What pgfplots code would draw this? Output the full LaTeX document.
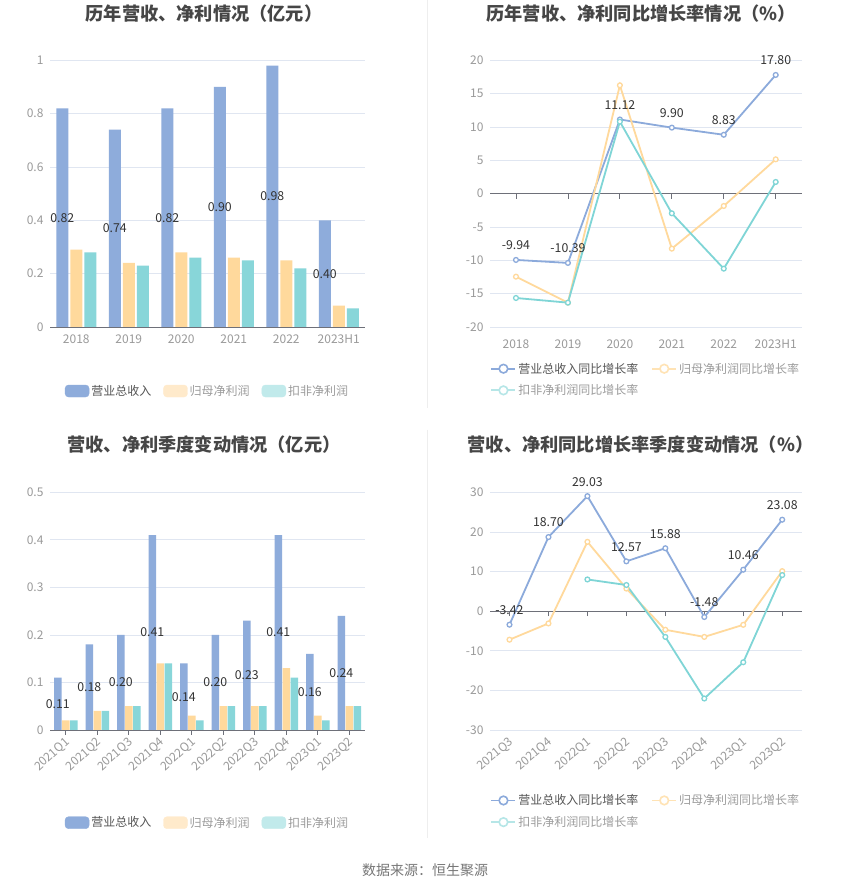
\documentclass[border=0pt]{standalone}
\usepackage{fontspec}
\setmainfont{Noto Sans CJK SC}
\usepackage{pgfplots}
\pgfplotsset{compat=1.18}
\definecolor{barblue}{HTML}{8EACDB}
\definecolor{barorange}{HTML}{FFD99C}
\definecolor{barcyan}{HTML}{88D6D9}
\definecolor{lineblue}{HTML}{8CAADB}
\definecolor{lineorange}{HTML}{FFD99C}
\definecolor{linecyan}{HTML}{7FD5D6}
\definecolor{legorange}{HTML}{FFEACB}
\definecolor{legcyan}{HTML}{C1EAEB}
\definecolor{legorangeL}{HTML}{FFE3B5}
\definecolor{legcyanL}{HTML}{B6E6E7}
\definecolor{gridc}{HTML}{E0E6F1}
\definecolor{axisc}{HTML}{6E7079}
\definecolor{tickc}{HTML}{9A9A9A}
\definecolor{labc}{HTML}{333333}
\definecolor{titc}{HTML}{464646}
\definecolor{leg1}{HTML}{555555}
\definecolor{leg2}{HTML}{9C9C9C}
\definecolor{sepc}{HTML}{EEEEEE}
\newcommand{\tkf}{\fontsize{12}{14}\selectfont}
\newcommand{\labf}{\fontsize{12.3}{14}\selectfont}
\newcommand{\titf}{\fontsize{18.2}{20}\selectfont\bfseries}
\pgfplotsset{
  base/.style={
    anchor=south west, scale only axis, clip=false,
    ymajorgrids, grid style={gridc, line width=0.8pt},
    axis y line*=left, y axis line style={draw=none},
    x axis line style={axisc, line width=0.8pt},
    ytick style={draw=none},
    tick label style={font=\tkf, text=tickc},
    yticklabel style={xshift=-3pt},
    /pgf/number format/assume math mode=true,
    legend style={draw=none, fill=none, inner sep=0pt, font=\fontsize{12}{14}\selectfont,
      /tikz/every even column/.append style={column sep=10pt}},
    legend cell align=left,
  },
  barlab/.style={draw=none, mark=none, forget plot, nodes near coords, point meta=explicit symbolic,
    nodes near coords style={font=\labf, text=labc, anchor=center, inner sep=0pt}},
  linelab/.style={draw=none, mark=none, forget plot, nodes near coords, point meta=explicit symbolic,
    nodes near coords style={font=\labf, text=labc, anchor=center, inner sep=0pt, yshift=14.5pt}},
  lser/.style={color=#1, line width=1.8pt, mark=*, mark size=2.4pt, mark options={fill=white, line width=1.3pt}},
}
\begin{document}
\begin{tikzpicture}[x=1pt,y=1pt]
\useasboundingbox (0,0) rectangle (850,891);
\fill[white] (0,0) rectangle (850,891);
\draw[sepc, line width=0.8pt] (427.5,891) -- (427.5,483);
\draw[sepc, line width=0.8pt] (427.5,461) -- (427.5,53);
\node[text=titc, font=\titf] at (204,877.5) {历年营收、净利情况（亿元）};
\node[text=titc, font=\titf] at (641,877.5) {历年营收、净利同比增长率情况（\%）};
\node[text=titc, font=\titf] at (204,446) {营收、净利季度变动情况（亿元）};
\node[text=titc, font=\titf] at (640.5,446) {营收、净利同比增长率季度变动情况（\%）};
\node[text=leg1!80, font=\fontsize{14}{16}\selectfont] at (425,20.3) {数据来源：恒生聚源};

% ---------- Chart 1 ----------
\begin{axis}[base, at={(50pt,564pt)}, width=315pt, height=266.7pt,
  xmin=-0.5, xmax=5.5, ymin=0, ymax=1,
  axis x line*=bottom, xtick style={draw=none},
  xtick={0,...,5}, xticklabels={2018,2019,2020,2021,2022,2023H1},
  xticklabel style={yshift=-4pt},
  ytick={0,0.2,0.4,0.6,0.8,1}, yticklabels={0,0.2,0.4,0.6,0.8,1},
  legend columns=3, legend style={at={(0.5,-0.24)}, anchor=center},
]
\addplot[ybar, bar width=12pt, bar shift=-14pt, fill=barblue, draw=none, forget plot]
  coordinates {(0,0.82) (1,0.74) (2,0.82) (3,0.90) (4,0.98) (5,0.40)};
\addplot[ybar, bar width=12pt, bar shift=0pt, fill=barorange, draw=none, forget plot]
  coordinates {(0,0.29) (1,0.24) (2,0.28) (3,0.26) (4,0.25) (5,0.08)};
\addplot[ybar, bar width=12pt, bar shift=14pt, fill=barcyan, draw=none, forget plot]
  coordinates {(0,0.28) (1,0.23) (2,0.26) (3,0.25) (4,0.22) (5,0.07)};
\addplot[barlab] coordinates {(-0.2667,0.41)[0.82] (0.7333,0.37)[0.74] (1.7333,0.41)[0.82] (2.7333,0.45)[0.90] (3.7333,0.49)[0.98] (4.7333,0.20)[0.40]};
\addlegendimage{legend image code/.code={\fill[barblue, rounded corners=3.5pt] (0pt,-6pt) rectangle (24pt,6pt);}}
\addlegendentry{\textcolor{leg1}{营业总收入}}
\addlegendimage{legend image code/.code={\fill[legorange, rounded corners=3.5pt] (0pt,-6pt) rectangle (24pt,6pt);}}
\addlegendentry{\textcolor{leg2}{归母净利润}}
\addlegendimage{legend image code/.code={\fill[legcyan, rounded corners=3.5pt] (0pt,-6pt) rectangle (24pt,6pt);}}
\addlegendentry{\textcolor{leg2}{扣非净利润}}
\end{axis}

% ---------- Chart 2 ----------
\begin{axis}[base, at={(490pt,564pt)}, width=311.7pt, height=266.7pt,
  xmin=-0.5, xmax=5.5, ymin=-20, ymax=20,
  axis x line*=middle, xtick align=outside, major tick length=5pt,
  xtick style={draw=axisc, line width=0.8pt},
  xtick={0,...,5}, xticklabels={2018,2019,2020,2021,2022,2023H1},
  xticklabel style={yshift=-137.5pt},
  ytick={-20,-15,...,20},
  legend columns=2, legend style={at={(0.5,-0.197)}, anchor=center, row sep=6pt,
    /tikz/every even column/.append style={column sep=11pt}},
]
\addplot[lser=lineblue, forget plot] coordinates {(0,-9.94) (1,-10.39) (2,11.12) (3,9.90) (4,8.83) (5,17.80)};
\addplot[lser=lineorange, forget plot] coordinates {(0,-12.45) (1,-16.35) (2,16.25) (3,-8.25) (4,-1.85) (5,5.15)};
\addplot[lser=linecyan, forget plot] coordinates {(0,-15.65) (1,-16.35) (2,10.8) (3,-2.95) (4,-11.25) (5,1.75)};
\addplot[linelab] coordinates {(0,-9.94)[-9.94] (1,-10.39)[-10.39] (2,11.12)[11.12] (3,9.90)[9.90] (4,8.83)[8.83] (5,17.80)[17.80]};
\addlegendimage{legend image code/.code={\draw[lineblue, line width=1.8pt] (0pt,0pt) -- (24pt,0pt); \draw[lineblue, line width=1.6pt, fill=white] (12pt,0pt) circle (4.3pt);}}
\addlegendentry{\textcolor{leg1}{营业总收入同比增长率}}
\addlegendimage{legend image code/.code={\draw[legorangeL, line width=1.8pt] (0pt,0pt) -- (24pt,0pt); \draw[legorangeL, line width=1.6pt, fill=white] (12pt,0pt) circle (4.3pt);}}
\addlegendentry{\textcolor{leg2}{归母净利润同比增长率}}
\addlegendimage{legend image code/.code={\draw[legcyanL, line width=1.8pt] (0pt,0pt) -- (24pt,0pt); \draw[legcyanL, line width=1.6pt, fill=white] (12pt,0pt) circle (4.3pt);}}
\addlegendentry{\textcolor{leg2}{扣非净利润同比增长率}}
\end{axis}

% ---------- Chart 3 ----------
\begin{axis}[base, at={(50pt,161pt)}, width=315pt, height=237.7pt,
  xmin=-0.5, xmax=9.5, ymin=0, ymax=0.5,
  axis x line*=bottom, xtick align=outside, major tick length=5pt,
  xtick style={draw=axisc, line width=0.8pt},
  xtick={0,...,9}, xticklabels={2021Q1,2021Q2,2021Q3,2021Q4,2022Q1,2022Q2,2022Q3,2022Q4,2023Q1,2023Q2},
  xticklabel style={anchor=east, xshift=5pt, yshift=-3.3pt, rotate=42},
  ytick={0,0.1,0.2,0.3,0.4,0.5}, yticklabels={0,0.1,0.2,0.3,0.4,0.5},
  legend columns=3, legend style={at={(0.5,-0.39)}, anchor=center},
]
\addplot[ybar, bar width=7.5pt, bar shift=-8pt, fill=barblue, draw=none, forget plot]
  coordinates {(0,0.11) (1,0.18) (2,0.20) (3,0.41) (4,0.14) (5,0.20) (6,0.23) (7,0.41) (8,0.16) (9,0.24)};
\addplot[ybar, bar width=7.5pt, bar shift=0pt, fill=barorange, draw=none, forget plot]
  coordinates {(0,0.02) (1,0.04) (2,0.05) (3,0.14) (4,0.03) (5,0.05) (6,0.05) (7,0.13) (8,0.03) (9,0.05)};
\addplot[ybar, bar width=7.5pt, bar shift=8pt, fill=barcyan, draw=none, forget plot]
  coordinates {(0,0.02) (1,0.04) (2,0.05) (3,0.14) (4,0.02) (5,0.05) (6,0.05) (7,0.11) (8,0.02) (9,0.05)};
\addplot[barlab] coordinates {(-0.254,0.055)[0.11] (0.746,0.09)[0.18] (1.746,0.10)[0.20] (2.746,0.205)[0.41] (3.746,0.07)[0.14] (4.746,0.10)[0.20] (5.746,0.115)[0.23] (6.746,0.205)[0.41] (7.746,0.08)[0.16] (8.746,0.12)[0.24]};
\addlegendimage{legend image code/.code={\fill[barblue, rounded corners=3.5pt] (0pt,-6pt) rectangle (24pt,6pt);}}
\addlegendentry{\textcolor{leg1}{营业总收入}}
\addlegendimage{legend image code/.code={\fill[legorange, rounded corners=3.5pt] (0pt,-6pt) rectangle (24pt,6pt);}}
\addlegendentry{\textcolor{leg2}{归母净利润}}
\addlegendimage{legend image code/.code={\fill[legcyan, rounded corners=3.5pt] (0pt,-6pt) rectangle (24pt,6pt);}}
\addlegendentry{\textcolor{leg2}{扣非净利润}}
\end{axis}

% ---------- Chart 4 ----------
\begin{axis}[base, at={(490pt,161pt)}, width=311.7pt, height=237.7pt,
  xmin=-0.5, xmax=7.5, ymin=-30, ymax=30,
  axis x line*=middle, xtick align=outside, major tick length=5pt,
  xtick style={draw=axisc, line width=0.8pt},
  xtick={0,...,7}, xticklabels={2021Q3,2021Q4,2022Q1,2022Q2,2022Q3,2022Q4,2023Q1,2023Q2},
  xticklabel style={anchor=east, xshift=5pt, yshift=-122.3pt, rotate=40},
  ytick={-30,-20,...,30},
  legend columns=2, legend style={at={(0.5,-0.342)}, anchor=center, row sep=6pt,
    /tikz/every even column/.append style={column sep=11pt}},
]
\addplot[lser=lineblue, forget plot] coordinates {(0,-3.42) (1,18.70) (2,29.03) (3,12.57) (4,15.88) (5,-1.48) (6,10.46) (7,23.08)};
\addplot[lser=lineorange, forget plot] coordinates {(0,-7.2) (1,-3.1) (2,17.5) (3,5.7) (4,-4.7) (5,-6.5) (6,-3.45) (7,10.1)};
\addplot[lser=linecyan, forget plot] coordinates {(2,8.0) (3,6.6) (4,-6.5) (5,-22.05) (6,-12.9) (7,9.1)};
\addplot[linelab] coordinates {(0,-3.42)[-3.42] (1,18.70)[18.70] (2,29.03)[29.03] (3,12.57)[12.57] (4,15.88)[15.88] (5,-1.48)[-1.48] (6,10.46)[10.46] (7,23.08)[23.08]};
\addlegendimage{legend image code/.code={\draw[lineblue, line width=1.8pt] (0pt,0pt) -- (24pt,0pt); \draw[lineblue, line width=1.6pt, fill=white] (12pt,0pt) circle (4.3pt);}}
\addlegendentry{\textcolor{leg1}{营业总收入同比增长率}}
\addlegendimage{legend image code/.code={\draw[legorangeL, line width=1.8pt] (0pt,0pt) -- (24pt,0pt); \draw[legorangeL, line width=1.6pt, fill=white] (12pt,0pt) circle (4.3pt);}}
\addlegendentry{\textcolor{leg2}{归母净利润同比增长率}}
\addlegendimage{legend image code/.code={\draw[legcyanL, line width=1.8pt] (0pt,0pt) -- (24pt,0pt); \draw[legcyanL, line width=1.6pt, fill=white] (12pt,0pt) circle (4.3pt);}}
\addlegendentry{\textcolor{leg2}{扣非净利润同比增长率}}
\end{axis}
\end{tikzpicture}
\end{document}
